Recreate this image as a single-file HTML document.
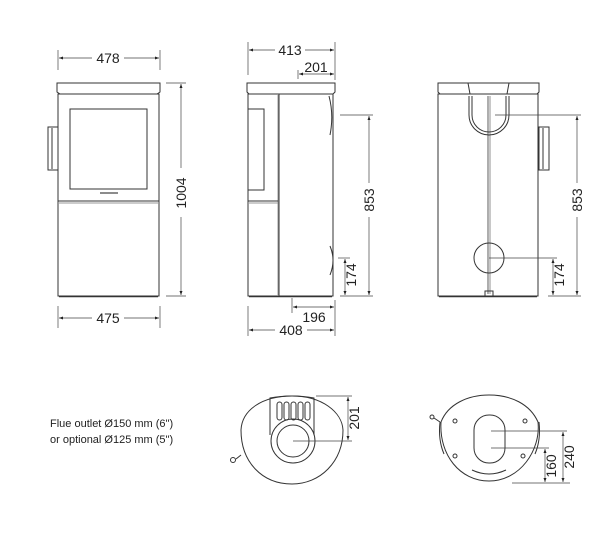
<!DOCTYPE html>
<html><head><meta charset="utf-8"><style>
html,body{margin:0;padding:0;background:#fff;}
svg{display:block;font-family:"Liberation Sans",sans-serif;}
</style></head><body>
<svg width="615" height="543" viewBox="0 0 615 543" xmlns="http://www.w3.org/2000/svg">
<defs>
<marker id="a" viewBox="0 0 8 6" refX="8" refY="3" markerWidth="6" markerHeight="5" orient="auto-start-reverse"><path d="M0,0 L8,3 L0,6z" fill="#222"/></marker>
</defs>
<g fill="none" stroke="#333" stroke-width="1">
<!-- FRONT -->
<path d="M57,83 H160 V92 L157,94 H60 L57,92 Z"/>
<rect x="58" y="94" width="101" height="202"/>
<line x1="59" y1="296.5" x2="158" y2="296.5" stroke-width="1.5"/>
<rect x="70" y="109" width="77" height="80"/>
<line x1="58" y1="201" x2="159" y2="201"/>
<line x1="58" y1="203" x2="159" y2="203" stroke="#999"/>
<rect x="48" y="127" width="10" height="43"/>
<line x1="52" y1="128" x2="52" y2="169"/>
<line x1="100" y1="193" x2="118" y2="193" stroke-width="1.5" stroke="#666"/>
<!-- SIDE -->
<path d="M247,83 H335 V92 L333,94 H249 L247,92 Z"/>
<rect x="248" y="94" width="85" height="202"/>
<line x1="249" y1="296.5" x2="332" y2="296.5" stroke-width="1.5"/>
<line x1="279" y1="94" x2="279" y2="296"/>
<line x1="278" y1="94" x2="278" y2="296" stroke="#999"/>
<rect x="248" y="109" width="16" height="81"/>
<line x1="248" y1="201" x2="278" y2="201"/>
<line x1="248" y1="203" x2="278" y2="203" stroke="#999"/>
<path d="M329,96 Q334,115 330,135"/>
<path d="M330,246 Q336,260 330,275"/>
<!-- BACK -->
<path d="M438,83 H539 V92 L537,94 H440 L438,92 Z"/>
<line x1="468" y1="83" x2="470" y2="94"/>
<line x1="509" y1="83" x2="507" y2="94"/>
<rect x="438" y="94" width="100" height="202"/>
<line x1="439" y1="296.5" x2="537" y2="296.5" stroke-width="1.5"/>
<line x1="488" y1="96" x2="488" y2="294" stroke-width="0.8"/>
<line x1="490" y1="96" x2="490" y2="294" stroke-width="0.8" stroke="#777"/>
<path d="M469,96 V115 A20,20 0 0 0 509,115 V96"/>
<path d="M472,96 V115 A17,17 0 0 0 506,115 V96"/>
<rect x="485" y="291" width="8" height="5"/>
<circle cx="489" cy="258" r="15"/>
<rect x="539" y="127" width="10" height="43"/>
<line x1="543" y1="128" x2="543" y2="169"/>
<!-- BOTTOM LEFT -->
<path d="M241,430 C242,410 262,396 292,396 C322,396 342,412 343,430 C343,462 320,484 292,484 C262,484 241,462 241,430 Z"/>
<path d="M270,435 V398 Q292,394 314,398 V435"/>
<g>
<rect x="277" y="402" width="5" height="18" rx="2.5"/>
<rect x="284" y="402" width="5" height="18" rx="2.5"/>
<rect x="291" y="402" width="5" height="18" rx="2.5"/>
<rect x="298" y="402" width="5" height="18" rx="2.5"/>
<rect x="305" y="402" width="5" height="18" rx="2.5"/>
</g>
<circle cx="293" cy="441" r="22"/>
<circle cx="293" cy="441" r="16"/>
<line x1="241" y1="455" x2="236" y2="459"/>
<circle cx="233" cy="460" r="2.5"/>
<!-- BOTTOM RIGHT -->
<path d="M441,422 C448,404 468,395 489,395 C511,395 530,404 538,422 C541,450 520,481 489,481 C460,481 439,455 441,422 Z"/>
<path d="M440,422 Q438,440 444,454" />
<path d="M539,422 Q541,440 535,454" />
<path d="M472,470 Q489,478 506,470" />
<rect x="474" y="415" width="31" height="48" rx="15"/>
<line x1="440" y1="422" x2="434" y2="418"/>
<circle cx="432" cy="417" r="2"/>
<circle cx="455" cy="421" r="2"/><circle cx="525" cy="421" r="2"/>
<circle cx="455" cy="456" r="2"/><circle cx="523" cy="456" r="2"/>
</g>
<g stroke="#444" stroke-width="0.7" fill="none">
<line x1="58" y1="50" x2="58" y2="70"/><line x1="160" y1="50" x2="160" y2="70"/>
<line x1="59" y1="58" x2="92" y2="58" marker-start="url(#a)"/><line x1="124" y1="58" x2="159" y2="58" marker-end="url(#a)"/>
<line x1="58" y1="306" x2="58" y2="328"/><line x1="160" y1="306" x2="160" y2="328"/>
<line x1="59" y1="318" x2="92" y2="318" marker-start="url(#a)"/><line x1="124" y1="318" x2="159" y2="318" marker-end="url(#a)"/>
<line x1="166" y1="83" x2="186" y2="83"/><line x1="166" y1="296" x2="186" y2="296"/>
<line x1="181" y1="84" x2="181" y2="168" marker-start="url(#a)"/><line x1="181" y1="217" x2="181" y2="295" marker-end="url(#a)"/>
<line x1="248" y1="42" x2="248" y2="75"/><line x1="335" y1="42" x2="335" y2="80"/>
<line x1="249" y1="50" x2="275" y2="50" marker-start="url(#a)"/><line x1="305" y1="50" x2="334" y2="50" marker-end="url(#a)"/>
<line x1="298" y1="70" x2="298" y2="79"/>
<line x1="299" y1="74" x2="334" y2="74" marker-start="url(#a)" marker-end="url(#a)"/>
<line x1="340" y1="115" x2="373" y2="115"/><line x1="340" y1="296" x2="373" y2="296"/>
<line x1="369" y1="116" x2="369" y2="183" marker-start="url(#a)"/><line x1="369" y1="217" x2="369" y2="295" marker-end="url(#a)"/>
<line x1="338" y1="258" x2="350" y2="258"/>
<line x1="345" y1="259" x2="345" y2="295" marker-start="url(#a)" marker-end="url(#a)"/>
<line x1="292" y1="298" x2="292" y2="313"/>
<line x1="293" y1="307" x2="334" y2="307" marker-start="url(#a)" marker-end="url(#a)"/>
<line x1="335" y1="300" x2="335" y2="336"/>
<line x1="248" y1="306" x2="248" y2="336"/>
<line x1="249" y1="330" x2="275" y2="330" marker-start="url(#a)"/><line x1="307" y1="330" x2="334" y2="330" marker-end="url(#a)"/>
<line x1="495" y1="115" x2="581" y2="115"/><line x1="548" y1="296" x2="581" y2="296"/>
<line x1="577" y1="116" x2="577" y2="183" marker-start="url(#a)"/><line x1="577" y1="217" x2="577" y2="295" marker-end="url(#a)"/>
<line x1="489" y1="258" x2="557" y2="258"/>
<line x1="553" y1="259" x2="553" y2="295" marker-start="url(#a)" marker-end="url(#a)"/>
<line x1="316" y1="396" x2="352" y2="396"/><line x1="293" y1="441" x2="352" y2="441"/>
<line x1="348" y1="397" x2="348" y2="440" marker-start="url(#a)" marker-end="url(#a)"/>
<line x1="491" y1="431" x2="567" y2="431"/><line x1="491" y1="448" x2="549" y2="448"/>
<line x1="512" y1="483" x2="570" y2="483"/>
<line x1="563" y1="432" x2="563" y2="482" marker-start="url(#a)" marker-end="url(#a)"/>
<line x1="545" y1="449" x2="545" y2="482" marker-start="url(#a)" marker-end="url(#a)"/>
</g>
<g fill="#222" font-size="14">
<text x="108" y="63" text-anchor="middle">478</text>
<text x="108" y="323" text-anchor="middle">475</text>
<text transform="translate(186,193) rotate(-90)" text-anchor="middle">1004</text>
<text x="290" y="55" text-anchor="middle">413</text>
<text x="316" y="72" text-anchor="middle">201</text>
<text transform="translate(374,200) rotate(-90)" text-anchor="middle">853</text>
<text transform="translate(356,275) rotate(-90)" text-anchor="middle">174</text>
<text x="314" y="322" text-anchor="middle">196</text>
<text x="291" y="335" text-anchor="middle">408</text>
<text transform="translate(582,200) rotate(-90)" text-anchor="middle">853</text>
<text transform="translate(564,275) rotate(-90)" text-anchor="middle">174</text>
<text transform="translate(359,418) rotate(-90)" text-anchor="middle">201</text>
<text transform="translate(574,457) rotate(-90)" text-anchor="middle">240</text>
<text transform="translate(556,466) rotate(-90)" text-anchor="middle">160</text>
</g>
<g fill="#222" font-size="11">
<text x="50" y="427">Flue outlet Ø150 mm (6")</text>
<text x="50" y="443">or optional Ø125 mm (5")</text>
</g>
</svg>
</body></html>
